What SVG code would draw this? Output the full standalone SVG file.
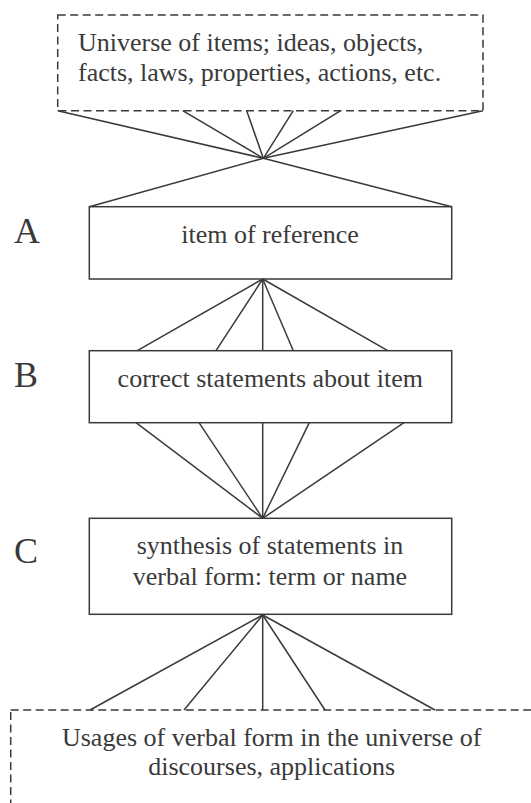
<svg xmlns="http://www.w3.org/2000/svg" width="531" height="803" viewBox="0 0 531 803">
  <style>
    .box { fill: none; stroke: #3a3a3a; stroke-width: 1.5; }
    .dash { fill: none; stroke: #3a3a3a; stroke-width: 1.5; stroke-dasharray: 8 4.5; }
    .link { stroke: #3a3a3a; stroke-width: 1.5; fill: none; }
    .t { font-family: "Liberation Serif", "Times New Roman", serif; font-size: 26px; fill: #3a3a3a; text-anchor: middle; }
    .tl { font-family: "Liberation Serif", "Times New Roman", serif; font-size: 26px; fill: #3a3a3a; }
    .lvl { font-family: "Liberation Serif", "Times New Roman", serif; font-size: 36px; fill: #3a3a3a; }
  </style>
  <rect width="531" height="803" fill="#ffffff"/>

  <g id="connectors">
    <!-- universe of items converging to one point, then fanning to item box -->
    <line class="link" x1="57.7" y1="110.7" x2="263.3" y2="158.3"/>
    <line class="link" x1="182.7" y1="110.7" x2="263.3" y2="158.3"/>
    <line class="link" x1="246.7" y1="110.7" x2="263.3" y2="158.3"/>
    <line class="link" x1="293.3" y1="110.7" x2="263.3" y2="158.3"/>
    <line class="link" x1="340.7" y1="110.7" x2="263.3" y2="158.3"/>
    <line class="link" x1="483" y1="110.7" x2="263.3" y2="158.3"/>
    <line class="link" x1="263.3" y1="158.3" x2="89.3" y2="206.7"/>
    <line class="link" x1="263.3" y1="158.3" x2="451.7" y2="206.7"/>
    <!-- A to B -->
    <line class="link" x1="262.7" y1="279" x2="137.3" y2="350.7"/>
    <line class="link" x1="262.7" y1="279" x2="216" y2="350.7"/>
    <line class="link" x1="262.7" y1="279" x2="262.7" y2="350.7"/>
    <line class="link" x1="262.7" y1="279" x2="293.3" y2="350.7"/>
    <line class="link" x1="262.7" y1="279" x2="387.7" y2="350.7"/>
    <!-- B to C -->
    <line class="link" x1="136" y1="422.7" x2="262.7" y2="518.3"/>
    <line class="link" x1="199" y1="422.7" x2="262.7" y2="518.3"/>
    <line class="link" x1="262.7" y1="422.7" x2="262.7" y2="518.3"/>
    <line class="link" x1="309.3" y1="422.7" x2="262.7" y2="518.3"/>
    <line class="link" x1="404" y1="422.7" x2="262.7" y2="518.3"/>
    <!-- C to usages -->
    <line class="link" x1="262.7" y1="615" x2="90" y2="710"/>
    <line class="link" x1="262.7" y1="615" x2="184" y2="710"/>
    <line class="link" x1="262.7" y1="615" x2="262.7" y2="710"/>
    <line class="link" x1="262.7" y1="615" x2="325" y2="710"/>
    <line class="link" x1="262.7" y1="615" x2="435" y2="710"/>
  </g>

  <g id="universe">
    <rect class="dash" x="57.7" y="15" width="425.3" height="95.7"/>
    <text class="tl" x="78" y="50.5">Universe of items; ideas, objects,</text>
    <text class="tl" x="78" y="81">facts, laws, properties, actions, etc.</text>
  </g>

  <g id="item">
    <rect class="box" x="89.3" y="206.7" width="362.4" height="72.3"/>
    <text class="t" x="270" y="242.7">item of reference</text>
    <text class="lvl" x="14" y="242.7">A</text>
  </g>

  <g id="statements">
    <rect class="box" x="89.3" y="350.7" width="362.4" height="72"/>
    <text class="t" x="270.3" y="386.7">correct statements about item</text>
    <text class="lvl" x="14" y="386.7">B</text>
  </g>

  <g id="synthesis">
    <rect class="box" x="89.3" y="518.3" width="362.4" height="96"/>
    <text class="t" x="270" y="554">synthesis of statements in</text>
    <text class="t" x="270" y="585">verbal form: term or name</text>
    <text class="lvl" x="14" y="563.3">C</text>
  </g>

  <g id="usages">
    <rect class="dash" x="10.7" y="710" width="560" height="120"/>
    <text class="t" x="271.7" y="745.7">Usages of verbal form in the universe of</text>
    <text class="t" x="271.7" y="775">discourses, applications</text>
  </g>
</svg>
